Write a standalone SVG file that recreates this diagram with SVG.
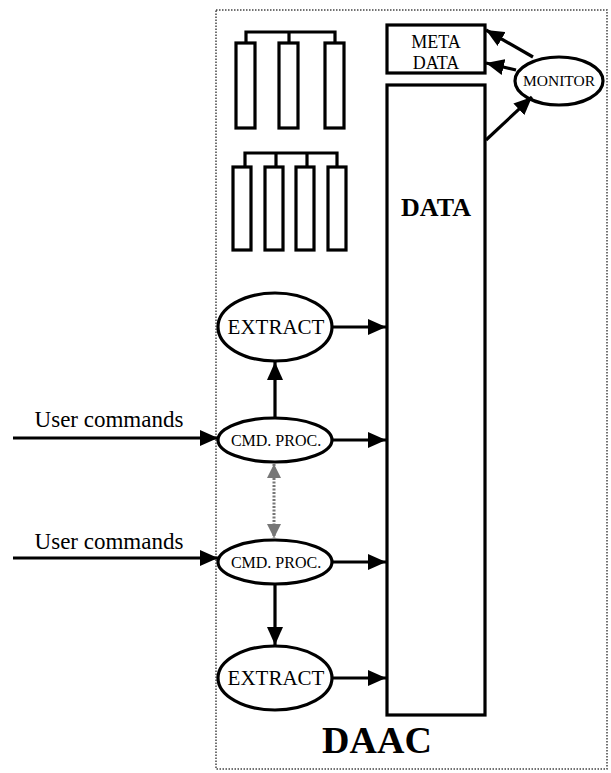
<svg xmlns="http://www.w3.org/2000/svg" width="611" height="773" viewBox="0 0 611 773">
<defs>
<marker id="ah" markerUnits="userSpaceOnUse" markerWidth="18" markerHeight="16" refX="18" refY="8" orient="auto"><path d="M0,0 L18,8 L0,16 z" fill="#000"/></marker>
<marker id="ahg" markerUnits="userSpaceOnUse" markerWidth="14" markerHeight="14" refX="14" refY="7" orient="auto"><path d="M0,0 L14,7 L0,14 z" fill="#777"/></marker>
<marker id="ahgs" markerUnits="userSpaceOnUse" markerWidth="14" markerHeight="14" refX="0" refY="7" orient="auto"><path d="M14,0 L0,7 L14,14 z" fill="#777"/></marker>
<style>
.box{fill:#fff;stroke:#000;stroke-width:3.2}
.ell{fill:#fff;stroke:#000;stroke-width:3.2}
.br{fill:none;stroke:#000;stroke-width:3.2}
.con{fill:none;stroke:#000;stroke-width:3.2}
.t{font-family:"Liberation Serif","Times New Roman",serif;fill:#000;text-anchor:middle}
.b{font-weight:bold}
</style>
</defs>
<rect id="daac" x="216" y="10" width="391" height="759" fill="none" stroke="#444" stroke-width="1.5" stroke-dasharray="1.5 1.5"/>
<g id="storage1">
<path class="br" d="M246,43 V32 H335 V43 M289,32 V43"/>
<rect class="box" x="236" y="43" width="19" height="85"/>
<rect class="box" x="279" y="43" width="19" height="85"/>
<rect class="box" x="325" y="43" width="19" height="85"/>
</g>
<g id="storage2">
<path class="br" d="M245,167 V153 H337 V167 M276,153 V167 M307,153 V167"/>
<rect class="box" x="233" y="167" width="18" height="83"/>
<rect class="box" x="265" y="167" width="18" height="83"/>
<rect class="box" x="296" y="167" width="18" height="83"/>
<rect class="box" x="328" y="167" width="18" height="83"/>
</g>
<g id="metadata">
<rect class="box" x="387" y="25" width="98" height="48"/>
<text class="t" x="436" y="48" font-size="18">META</text>
<text class="t" x="436" y="69" font-size="18">DATA</text>
</g>
<g id="data">
<rect class="box" x="387" y="85" width="98" height="630"/>
<text class="t b" x="436" y="216" font-size="26">DATA</text>
</g>
<g id="monitor">
<ellipse class="ell" cx="559" cy="81" rx="44" ry="24"/>
<text class="t" x="559" y="86" font-size="15.5">MONITOR</text>
</g>
<g id="extract1">
<ellipse class="ell" cx="275" cy="327" rx="57" ry="34"/>
<text class="t" x="276" y="334" font-size="21">EXTRACT</text>
</g>
<g id="cmdproc1">
<ellipse class="ell" cx="275" cy="440" rx="57" ry="22"/>
<text class="t" x="276" y="446" font-size="16">CMD. PROC.</text>
</g>
<g id="cmdproc2">
<ellipse class="ell" cx="275" cy="562" rx="57" ry="22"/>
<text class="t" x="276" y="568" font-size="16">CMD. PROC.</text>
</g>
<g id="extract2">
<ellipse class="ell" cx="275" cy="678" rx="57" ry="32"/>
<text class="t" x="276" y="685" font-size="21">EXTRACT</text>
</g>
<g id="labels">
<text class="t" x="109" y="427" font-size="23">User commands</text>
<text class="t" x="109" y="549" font-size="23">User commands</text>
<text class="t b" x="377" y="753" font-size="38">DAAC</text>
</g>
<g id="connectors">
<line class="con" x1="533" y1="57" x2="486" y2="30" marker-end="url(#ah)"/>
<line class="con" x1="516" y1="70" x2="486" y2="63" marker-end="url(#ah)"/>
<line class="con" x1="486" y1="140" x2="532" y2="97" marker-end="url(#ah)"/>
<line class="con" x1="332" y1="327" x2="386" y2="327" marker-end="url(#ah)"/>
<line class="con" x1="275" y1="418" x2="275" y2="362" marker-end="url(#ah)"/>
<line class="con" x1="13" y1="438" x2="218" y2="438" marker-end="url(#ah)"/>
<line class="con" x1="332" y1="440" x2="386" y2="440" marker-end="url(#ah)"/>
<line x1="274" y1="464" x2="274" y2="538" stroke="#777" stroke-width="3" stroke-dasharray="2 1.5" marker-start="url(#ahgs)" marker-end="url(#ahg)"/>
<line class="con" x1="13" y1="558" x2="218" y2="558" marker-end="url(#ah)"/>
<line class="con" x1="332" y1="562" x2="386" y2="562" marker-end="url(#ah)"/>
<line class="con" x1="275" y1="584" x2="275" y2="645" marker-end="url(#ah)"/>
<line class="con" x1="332" y1="678" x2="386" y2="678" marker-end="url(#ah)"/>
</g>
</svg>
